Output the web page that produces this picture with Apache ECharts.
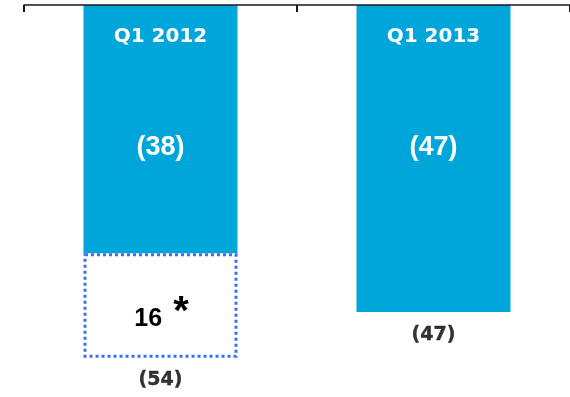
<!DOCTYPE html>
<html>
<head>
<meta charset="utf-8">
<script src="https://cdn.jsdelivr.net/npm/echarts@6/dist/echarts.min.js"></script>
<style>
  html, body { margin: 0; padding: 0; background: #ffffff; }
  #chart { width: 570px; height: 397px; }
</style>
</head>
<body>
<div id="chart"></div>
<script>
// Quarterly results (negative values drawn hanging from the top axis)
const categories = ['Q1 2012', 'Q1 2013'];
const reportedValues = [38, 47];      // solid blue bars
const adjustmentValues = [16, null];  // dotted adjustment block
const totalValues = [54, 47];         // totals shown beneath each column

const chart = echarts.init(document.getElementById('chart'), null, { renderer: 'canvas' });

const neg = v => (v == null ? null : -v);

chart.setOption({
  animation: false,
  backgroundColor: '#ffffff',
  grid: { left: 24, top: 5, right: 0, height: 397 },
  xAxis: {
    type: 'category',
    data: categories,
    position: 'top',
    z: 10,
    axisLine: { show: true, lineStyle: { color: '#1a1a1a', width: 1.5 } },
    axisTick: { show: true, inside: true, length: 7, lineStyle: { color: '#1a1a1a', width: 2 } },
    axisLabel: {
      inside: true,
      margin: 22,
      color: '#ffffff',
      fontFamily: 'DejaVu Sans',
      fontWeight: 'bold',
      fontSize: 20
    }
  },
  yAxis: { type: 'value', min: -60, max: 0, show: false },
  series: [
    {
      type: 'bar',
      stack: 'q',
      barWidth: 154,
      data: reportedValues.map(neg),
      itemStyle: { color: '#00a6d9' },
      label: {
        show: true,
        position: ['50%', 143],
        align: 'center',
        verticalAlign: 'middle',
        color: '#ffffff',
        fontFamily: 'Liberation Sans',
        fontWeight: 'bold',
        fontSize: 27,
        formatter: p => '(' + Math.abs(p.value) + ')'
      }
    },
    {
      type: 'bar',
      stack: 'q',
      barWidth: 154,
      data: adjustmentValues.map(neg),
      itemStyle: {
        color: '#ffffff',
        borderColor: '#3a6ef5',
        borderWidth: 3,
        borderType: [3, 3]
      },
      label: {
        show: true,
        position: 'inside',
        offset: [1, 14],
        formatter: p => '{n|' + Math.abs(p.value) + '}{s| *}',
        rich: {
          n: { color: '#000000', fontFamily: 'Liberation Sans', fontWeight: 'bold', fontSize: 25 },
          s: { color: '#000000', fontFamily: 'Liberation Sans', fontWeight: 'bold', fontSize: 40, padding: [0, 0, 14, 0] }
        }
      }
    },
    {
      type: 'scatter',
      data: totalValues.map(neg),
      symbolSize: 0,
      z: 5,
      label: {
        show: true,
        position: 'bottom',
        distance: 13,
        color: '#000000',
        textBorderColor: '#000000',
        textBorderWidth: 0.4,
        fontFamily: 'DejaVu Sans',
        fontWeight: 'bold',
        fontSize: 19,
        formatter: p => '(' + Math.abs(p.value) + ')'
      }
    }
  ]
});
</script>
</body>
</html>
